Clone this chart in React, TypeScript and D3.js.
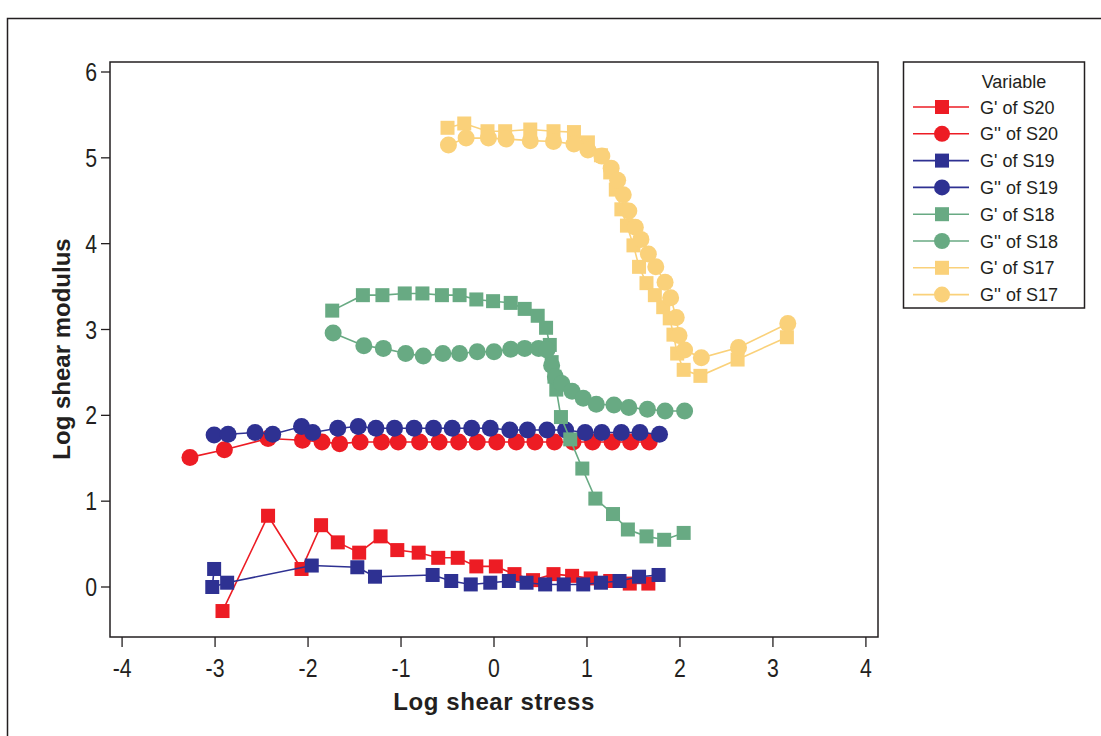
import { useEffect, useRef } from 'react';
import * as d3 from 'd3';

// tick values
const xTicks = [-4, -3, -2, -1, 0, 1, 2, 3, 4];
const yTicks = [0, 1, 2, 3, 4, 5, 6];

// G' of S20
const s20GpX = [-2.92, -2.43, -2.07, -1.86, -1.68, -1.45, -1.22, -1.04, -0.81, -0.60, -0.39, -0.19, 0.02, 0.22, 0.42, 0.64, 0.84, 1.04, 1.25, 1.46, 1.66];
const s20GpY = [-0.28, 0.83, 0.21, 0.72, 0.52, 0.40, 0.59, 0.43, 0.40, 0.34, 0.34, 0.24, 0.24, 0.15, 0.08, 0.15, 0.13, 0.10, 0.07, 0.04, 0.04];
// G'' of S20
const s20GppX = [-3.27, -2.90, -2.43, -2.06, -1.85, -1.66, -1.44, -1.21, -1.03, -0.80, -0.59, -0.38, -0.18, 0.03, 0.24, 0.44, 0.65, 0.85, 1.06, 1.27, 1.47, 1.67];
const s20GppY = [1.51, 1.60, 1.73, 1.71, 1.69, 1.67, 1.69, 1.69, 1.69, 1.69, 1.69, 1.69, 1.69, 1.69, 1.69, 1.69, 1.69, 1.69, 1.69, 1.69, 1.69, 1.69];
// G' of S19
const s19GpX = [-3.01, -3.03, -2.87, -1.96, -1.47, -1.28, -0.66, -0.46, -0.25, -0.04, 0.16, 0.35, 0.55, 0.75, 0.96, 1.15, 1.35, 1.56, 1.77];
const s19GpY = [0.21, 0.00, 0.05, 0.25, 0.23, 0.12, 0.14, 0.07, 0.03, 0.05, 0.07, 0.05, 0.03, 0.03, 0.03, 0.05, 0.07, 0.12, 0.14];
// G'' of S19
const s19GppX = [-3.01, -2.86, -2.57, -2.38, -2.07, -1.95, -1.68, -1.46, -1.27, -1.07, -0.86, -0.65, -0.45, -0.24, -0.04, 0.17, 0.36, 0.57, 0.77, 0.98, 1.16, 1.37, 1.57, 1.78];
const s19GppY = [1.77, 1.78, 1.80, 1.78, 1.87, 1.80, 1.85, 1.87, 1.85, 1.85, 1.85, 1.85, 1.85, 1.85, 1.85, 1.83, 1.83, 1.83, 1.83, 1.80, 1.80, 1.80, 1.80, 1.78];
// G' of S18
const s18GpX = [-1.74, -1.41, -1.20, -0.96, -0.77, -0.56, -0.37, -0.19, -0.01, 0.18, 0.33, 0.47, 0.56, 0.60, 0.62, 0.65, 0.67, 0.72, 0.82, 0.95, 1.09, 1.28, 1.44, 1.64, 1.83, 2.04];
const s18GpY = [3.22, 3.40, 3.40, 3.42, 3.42, 3.40, 3.40, 3.35, 3.33, 3.31, 3.24, 3.16, 3.02, 2.82, 2.62, 2.45, 2.30, 1.98, 1.72, 1.38, 1.03, 0.85, 0.67, 0.59, 0.55, 0.63];
// G'' of S18
const s18GppX = [-1.73, -1.40, -1.19, -0.95, -0.76, -0.55, -0.37, -0.18, 0.00, 0.18, 0.33, 0.48, 0.57, 0.62, 0.66, 0.73, 0.84, 0.96, 1.10, 1.29, 1.45, 1.65, 1.84, 2.05];
const s18GppY = [2.96, 2.81, 2.78, 2.72, 2.69, 2.72, 2.72, 2.74, 2.74, 2.77, 2.78, 2.78, 2.76, 2.58, 2.45, 2.37, 2.28, 2.20, 2.13, 2.12, 2.09, 2.07, 2.05, 2.05];
// G' of S17
const s17GpX = [-0.50, -0.32, -0.07, 0.12, 0.39, 0.64, 0.86, 1.01, 1.15, 1.25, 1.31, 1.37, 1.43, 1.50, 1.56, 1.64, 1.73, 1.82, 1.89, 1.93, 1.97, 2.04, 2.22, 2.62, 3.15];
const s17GpY = [5.35, 5.40, 5.31, 5.31, 5.33, 5.31, 5.30, 5.18, 5.03, 4.83, 4.63, 4.40, 4.21, 3.98, 3.73, 3.54, 3.40, 3.26, 3.13, 2.94, 2.72, 2.53, 2.46, 2.65, 2.91];
// G'' of S17
const s17GppX = [-0.49, -0.30, -0.06, 0.13, 0.39, 0.64, 0.86, 1.01, 1.16, 1.26, 1.33, 1.39, 1.45, 1.52, 1.58, 1.66, 1.74, 1.84, 1.90, 1.96, 1.99, 2.05, 2.23, 2.63, 3.16];
const s17GppY = [5.15, 5.23, 5.23, 5.22, 5.20, 5.19, 5.16, 5.09, 5.02, 4.88, 4.74, 4.57, 4.38, 4.19, 4.05, 3.88, 3.73, 3.55, 3.37, 3.14, 2.93, 2.76, 2.67, 2.79, 3.07];

const seriesNames = ["G' of S20", "G'' of S20", "G' of S19", "G'' of S19", "G' of S18", "G'' of S18", "G' of S17", "G'' of S17"];

const RED = '#ed1c24';
const NAVY = '#2e3192';
const GREEN = '#68aa83';
const YELLOW = '#fad17a';

type Series = { name: string; xs: number[]; ys: number[]; color: string; shape: 'square' | 'circle' };

const series: Series[] = [
    { name: seriesNames[0], xs: s20GpX, ys: s20GpY, color: RED, shape: 'square' },
    { name: seriesNames[1], xs: s20GppX, ys: s20GppY, color: RED, shape: 'circle' },
    { name: seriesNames[2], xs: s19GpX, ys: s19GpY, color: NAVY, shape: 'square' },
    { name: seriesNames[3], xs: s19GppX, ys: s19GppY, color: NAVY, shape: 'circle' },
    { name: seriesNames[4], xs: s18GpX, ys: s18GpY, color: GREEN, shape: 'square' },
    { name: seriesNames[5], xs: s18GppX, ys: s18GppY, color: GREEN, shape: 'circle' },
    { name: seriesNames[6], xs: s17GpX, ys: s17GpY, color: YELLOW, shape: 'square' },
    { name: seriesNames[7], xs: s17GppX, ys: s17GppY, color: YELLOW, shape: 'circle' },
];

export default function App() {
    const ref = useRef<SVGSVGElement>(null);

    useEffect(() => {
        const svg = d3.select(ref.current);
        svg.selectAll('*').remove();

        // plot frame
        const left = 110, right = 878, top = 62, bottom = 637;
        const font = "'Liberation Sans', Arial, sans-serif";
        const ink = '#231f20';

        const x = d3.scaleLinear().domain([-4.13, 4.13]).range([left, right]);
        const y = d3.scaleLinear().domain([0, 6]).range([587, 72]);

        // outer figure border (cut off at right/bottom)
        svg.append('path')
            .attr('d', 'M7.5,736 V18.5 H1101')
            .attr('fill', 'none')
            .attr('stroke', ink)
            .attr('stroke-width', 1.5);

        svg.append('rect')
            .attr('x', left).attr('y', top)
            .attr('width', right - left).attr('height', bottom - top)
            .attr('fill', 'none')
            .attr('stroke', ink)
            .attr('stroke-width', 1.5);

        // x axis (tick labels in a narrow, tall face)
        const xAxis = svg.append('g').attr('font-family', font).attr('fill', ink);
        xTicks.forEach(function(t) {
            xAxis.append('line')
                .attr('x1', x(t)).attr('x2', x(t))
                .attr('y1', bottom).attr('y2', bottom + 10)
                .attr('stroke', ink).attr('stroke-width', 1.3);
            xAxis.append('text')
                .attr('transform', 'translate(' + x(t) + ',' + (bottom + 40) + ') scale(0.85,1)')
                .attr('text-anchor', 'middle')
                .attr('font-size', 25)
                .text(t);
        });
        svg.append('text')
            .attr('x', (left + right) / 2).attr('y', 710)
            .attr('text-anchor', 'middle')
            .attr('font-family', font)
            .attr('font-weight', 'bold')
            .attr('font-size', 24)
            .attr('letter-spacing', 0.6)
            .attr('fill', ink)
            .text('Log shear stress');

        // y axis
        const yAxis = svg.append('g').attr('font-family', font).attr('fill', ink);
        yTicks.forEach(function(t) {
            yAxis.append('line')
                .attr('x1', left - 9).attr('x2', left)
                .attr('y1', y(t)).attr('y2', y(t))
                .attr('stroke', ink).attr('stroke-width', 1.3);
            yAxis.append('text')
                .attr('transform', 'translate(' + (left - 13) + ',' + (y(t) + 9) + ') scale(0.85,1)')
                .attr('text-anchor', 'end')
                .attr('font-size', 25)
                .text(t);
        });
        svg.append('text')
            .attr('transform', 'translate(70,349) rotate(-90)')
            .attr('text-anchor', 'middle')
            .attr('font-family', font)
            .attr('font-weight', 'bold')
            .attr('font-size', 24)
            .attr('fill', ink)
            .text('Log shear modulus');

        // series
        const line = d3.line<[number, number]>()
            .x(d => x(d[0]))
            .y(d => y(d[1]));

        const sq = 14, r = 8.5;
        series.forEach(function(s) {
            const pts: [number, number][] = s.xs.map((v, i) => [v, s.ys[i]]);
            const g = svg.append('g');
            g.append('path')
                .datum(pts)
                .attr('d', line)
                .attr('fill', 'none')
                .attr('stroke', s.color)
                .attr('stroke-width', 1.6);
            if (s.shape === 'square') {
                g.selectAll('rect').data(pts).enter().append('rect')
                    .attr('x', d => x(d[0]) - sq / 2)
                    .attr('y', d => y(d[1]) - sq / 2)
                    .attr('width', sq).attr('height', sq)
                    .attr('fill', s.color);
            } else {
                g.selectAll('circle').data(pts).enter().append('circle')
                    .attr('cx', d => x(d[0]))
                    .attr('cy', d => y(d[1]))
                    .attr('r', r)
                    .attr('fill', s.color);
            }
        });

        // legend
        const lg = svg.append('g').attr('font-family', font);
        lg.append('rect')
            .attr('x', 903.5).attr('y', 62)
            .attr('width', 181).attr('height', 246)
            .attr('fill', 'none')
            .attr('stroke', ink)
            .attr('stroke-width', 1.5);
        lg.append('text')
            .attr('x', 1014).attr('y', 88)
            .attr('text-anchor', 'middle')
            .attr('font-size', 18)
            .attr('fill', ink)
            .text('Variable');
        series.forEach(function(s, i) {
            const cy = 107 + i * 26.8;
            lg.append('line')
                .attr('x1', 913).attr('x2', 969)
                .attr('y1', cy).attr('y2', cy)
                .attr('stroke', s.color).attr('stroke-width', 1.6);
            if (s.shape === 'square') {
                lg.append('rect')
                    .attr('x', 942 - 7).attr('y', cy - 7)
                    .attr('width', 14).attr('height', 14)
                    .attr('fill', s.color);
            } else {
                lg.append('circle')
                    .attr('cx', 942).attr('cy', cy).attr('r', 8)
                    .attr('fill', s.color);
            }
            lg.append('text')
                .attr('x', 980).attr('y', cy + 6.5)
                .attr('font-size', 18)
                .attr('fill', ink)
                .text(s.name);
        });
    }, []);

    return (
        <svg ref={ref} width={1101} height={736}
            style={{ position: 'absolute', left: 0, top: 0, background: '#fff' }} />
    );
}
